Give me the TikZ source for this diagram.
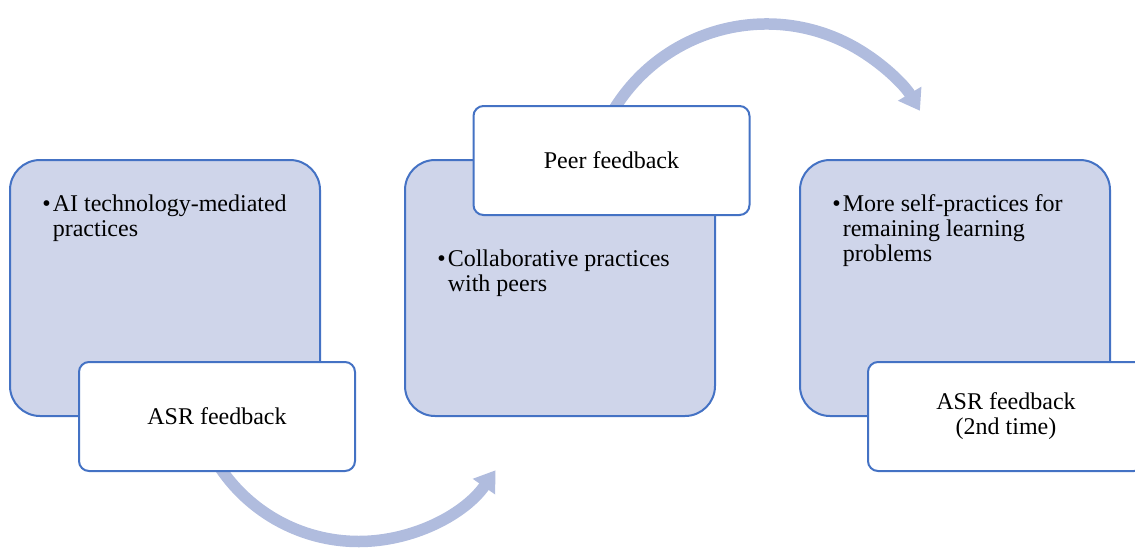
\documentclass[tikz,border=0pt]{standalone}
\usepackage{fontspec}
\setmainfont{Liberation Serif}
\usetikzlibrary{arrows.meta}
\definecolor{stageline}{RGB}{68,114,196}
\definecolor{stagefill}{RGB}{207,213,234}
\definecolor{cyclecolor}{RGB}{176,188,222}
\newcommand{\bulletitem}[2]{\begin{tabular}[t]{@{}l@{\hspace{1pt}}l@{}}\textbullet & #1\\ & #2\end{tabular}}

\begin{document}
\begin{tikzpicture}[x=0.5pt,y=0.5pt,font=\fontsize{12}{12.5}\selectfont]
    \tikzset{stage/.style = {shape=rectangle, rounded corners=15pt, line width=1pt, draw=stageline, fill=stagefill, minimum width=155pt, minimum height=128pt, inner sep=0pt},
             feedback/.style = {shape=rectangle, rounded corners=5pt, line width=1pt, draw=stageline, fill=white, minimum width=138pt, minimum height=54.5pt, align=center},
             item/.style = {inner sep=0pt, anchor=base west},
             cycle/.style = {line width=5.75pt, draw=cyclecolor, -{Triangle[length=10pt,width=13pt]}}}
    \def\y{266}
    \useasboundingbox (0,0) rectangle (1135,554);
    \clip (0,0) rectangle (1135,554);
    % the three practice stages
    \node[stage] (s1) at (165,\y){};
    \node[stage] (s2) at (560,\y){};
    \node[stage] (s3) at (955,\y){};
    \node[item] (t1) at ([shift={(33,-52)}]s1.north west){\bulletitem{AI technology-mediated}{practices}};
    \node[item] (t2) at ([shift={(33,-107)}]s2.north west){\bulletitem{Collaborative practices}{with peers}};
    \node[item] (t3) at ([shift={(33,-52)}]s3.north west){\begin{tabular}[t]{@{}l@{\hspace{1pt}}l@{}}\textbullet & More self-practices for\\ & remaining learning\\ & problems\end{tabular}};
    % feedback boxes
    \coordinate (c1) at (217,137.5);
    \coordinate (c2) at (611.5,393.5);
    \coordinate (c3) at (1006,137.5);
    \draw[cycle] ([yshift=4]c1 |- 0,83) arc[start angle=212, end angle=325, radius=167];
    \draw[cycle] ([yshift=-4]c2 |- 0,448.5) arc[start angle=150, end angle=31, radius=179];
    \node[feedback] (f1) at (c1){ASR feedback};
    \node[feedback] (f2) at (c2){Peer feedback};
    \node[feedback] (f3) at (c3){ASR feedback\\(2nd time)};
\end{tikzpicture}
\end{document}
